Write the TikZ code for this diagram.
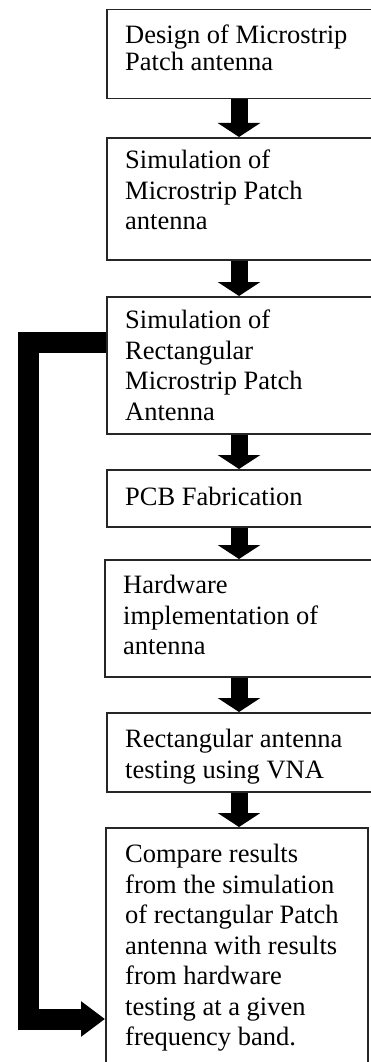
\documentclass[tikz,border=0pt]{standalone}
\usepackage{fontspec}
\setmainfont{Liberation Serif}
\usetikzlibrary{arrows.meta}
\tikzset{
  stepbox/.style={draw=black!85, line width=1.5pt, inner sep=0pt, anchor=north west},
  boxtext/.style={anchor=north west, inner sep=0pt, align=left,
    font={\fontsize{26.5}{30.5}\selectfont}},
  boxtextA/.style={boxtext, font={\fontsize{26.5}{27}\selectfont}},
  flow/.style={line width=17pt, -{Triangle[width=42pt,length=14pt]}},
  loopback/.style={line width=21pt, line join=miter, -{Triangle[width=34pt,length=24pt]}}
}
\begin{document}
\begin{tikzpicture}[x=1pt,y=-1pt]
\clip (0,0) rectangle (371,1062);
% boxes
\node[stepbox, minimum width=266pt, minimum height=89pt]  (b1) at (106,9) {};
\node[stepbox, minimum width=266pt, minimum height=122pt] (b2) at (106,137) {};
\node[stepbox, minimum width=266pt, minimum height=137pt] (b3) at (106,296) {};
\node[stepbox, minimum width=266pt, minimum height=57pt]  (b4) at (106,469) {};
\node[stepbox, minimum width=268pt, minimum height=117pt] (b5) at (104,559) {};
\node[stepbox, minimum width=266pt, minimum height=79pt]  (b6) at (106,712) {};
\node[stepbox, minimum width=262pt, minimum height=250pt] (b7) at (105,827) {};
% texts
\node[boxtextA] (t1) at (125,24) {\strut Design of Microstrip\\Patch antenna};
\node[boxtext] (t2) at (125,147) {\strut Simulation of\\Microstrip Patch\\antenna};
\node[boxtext] (t3) at (125,307) {\strut Simulation of\\Rectangular\\Microstrip Patch\\Antenna};
\node[boxtext] (t4) at (125,484) {\strut PCB Fabrication};
\node[boxtext] (t5) at (123,572) {\strut Hardware\\implementation of\\antenna};
\node[boxtext] (t6) at (125,726) {\strut Rectangular antenna\\testing using VNA};
\node[boxtext] (t7) at (125,841) {\strut Compare results\\from the simulation\\of rectangular Patch\\antenna with results\\from hardware\\testing at a given\\frequency band.};
% arrow axis
\coordinate (ax) at (239,0);
\coordinate (ytop) at (0,342);
\coordinate (ybot) at (0,1019);
\coordinate (xl) at (28,0);
\draw[flow] (b1.south -| ax) -- (b2.north -| ax);
\draw[flow] (b2.south -| ax) -- (b3.north -| ax);
\draw[flow] (b3.south -| ax) -- (b4.north -| ax);
\draw[flow] (b4.south -| ax) -- (b5.north -| ax);
\draw[flow] (b5.south -| ax) -- (b6.north -| ax);
\draw[flow] (b6.south -| ax) -- (b7.north -| ax);
% feedback
\draw[loopback] (b3.west |- ytop) -- (xl |- ytop) -- (xl |- ybot) -- (b7.west |- ybot);
\end{tikzpicture}
\end{document}
